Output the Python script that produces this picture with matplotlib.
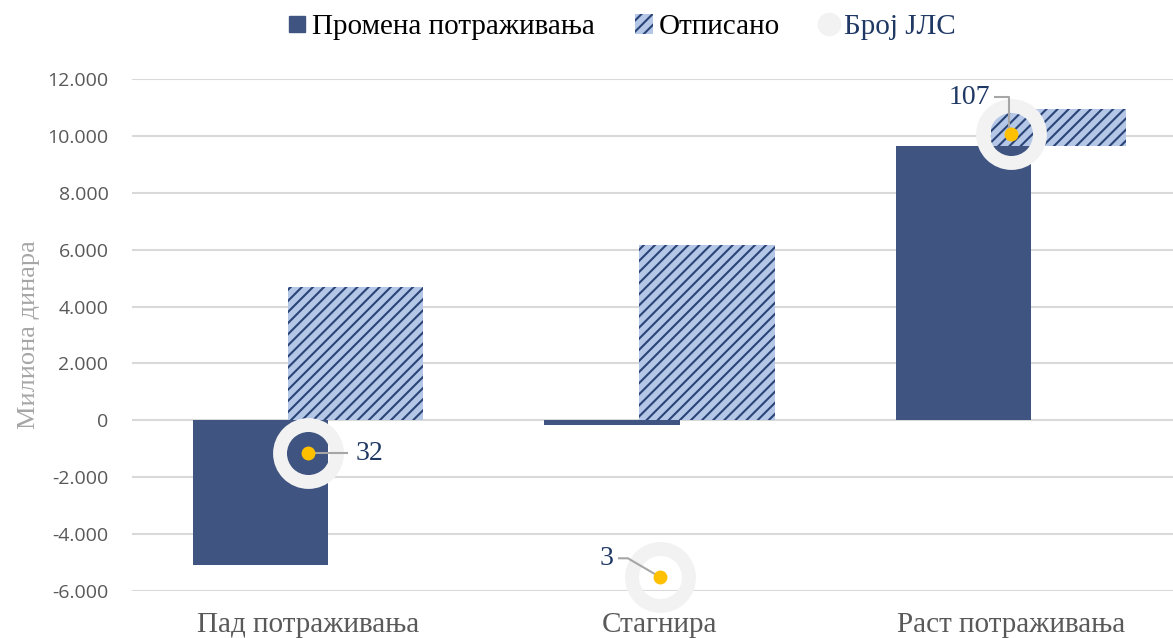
import numpy as np
import matplotlib.pyplot as plt
from matplotlib.patches import Patch
from matplotlib.lines import Line2D

categories = ["Пад потраживања", "Стагнира", "Раст потраживања"]
change = [-5100, -150, 9650]        # Промена потраживања
written_off = [4700, 6150, 1300]    # Отписано
bubble_y = [-1150, -5500, 10050]    # Број ЈЛС position
bubble_n = [32, 3, 107]

yticks = [-6000, -4000, -2000, 0, 2000, 4000, 6000, 8000, 10000, 12000]
ytick_labels = ["-6.000", "-4.000", "-2.000", "0", "2.000", "4.000",
                "6.000", "8.000", "10.000", "12.000"]

dark = "#3f5480"
hatch_face = "#b4c7e7"
navy = "#1f3864"
grey_txt = "#595959"
serif = ["Liberation Serif", "DejaVu Serif"]

plt.rcParams["hatch.linewidth"] = 1.5

fig = plt.figure(figsize=(11.73, 6.38), dpi=100)
ax = fig.add_axes([132 / 1173, 1 - 591 / 638, 1 - 132 / 1173, (591 - 79) / 638])

x = np.arange(len(categories))
w = 0.385
off = 0.135
bottoms = np.maximum(change, 0)

ax.bar(x - off, change, w, color=dark, zorder=2)
ax.bar(x + off, written_off, w, bottom=bottoms, color=hatch_face,
       edgecolor="#2a4478", linewidth=0, hatch="///", zorder=2)

# bubbles: light ring with yellow centre
ax.plot(x, bubble_y, "o", ms=41, mfc="none", mec="#f2f2f2", mew=10,
        ls="none", zorder=4, clip_on=False)
ax.plot(x, bubble_y, "o", ms=9, color="#ffc000", ls="none", zorder=6,
        clip_on=False)

# labels with leader lines
lab_pos = [(0.135, 0, "left"), (-0.13, 650, "right"), (-0.06, 1300, "right")]
for i, (dx, dy, ha) in enumerate(lab_pos):
    tx, ty = x[i] + dx, bubble_y[i] + dy
    if i == 0:
        ax.plot([x[i], tx - 0.025], [ty, ty], color="#a6a6a6", lw=1.5, zorder=5)
    elif i == 1:
        ax.plot([tx + 0.015, tx + 0.04, x[i]], [ty, ty, bubble_y[i]],
                color="#a6a6a6", lw=1.5, zorder=5, clip_on=False)
    else:
        ax.plot([tx + 0.015, tx + 0.055, tx + 0.055], [ty, ty, bubble_y[i]],
                color="#a6a6a6", lw=1.5, zorder=5)
    ax.text(tx, ty, str(bubble_n[i]), ha=ha, va="center", fontsize=20,
            color=navy, family=serif, zorder=7)

ax.set_xlim(-0.5, 2.46)
ax.set_ylim(-6000, 12000)
ax.set_yticks(yticks)
ax.set_yticklabels(ytick_labels, fontsize=14, color=grey_txt,
                   family=["Open Sans", "DejaVu Sans"])
ax.set_xticks(x)
ax.set_xticklabels(categories, fontsize=21, color=grey_txt, family=serif)
ax.tick_params(length=0)
ax.tick_params(axis="y", pad=17)
ax.tick_params(axis="x", pad=15)
ax.grid(axis="y", color="#d9d9d9", lw=1.5, zorder=0)
ax.set_axisbelow(True)
for s in ax.spines.values():
    s.set_visible(False)
ax.set_ylabel("Милиона динара", fontsize=19, color="#a6a6a6", family=serif,
              labelpad=5)

handles = [
    Line2D([], [], marker="s", ls="none", ms=11, color=dark),
    Patch(facecolor=hatch_face, edgecolor="#2a4478", hatch="///", linewidth=0),
    Line2D([], [], marker="o", ls="none", ms=16, color="#f2f2f2"),
]
leg = fig.legend(handles, ["Промена потраживања", "Отписано", "Број ЈЛС"],
                 loc="center", bbox_to_anchor=(622 / 1173, 1 - 27 / 638),
                 ncol=3, frameon=False, prop={"family": serif, "size": 21},
                 handlelength=0.6, handletextpad=0.2, columnspacing=1.4)
leg.get_texts()[2].set_color(navy)

fig.savefig("out.png", dpi=100)
